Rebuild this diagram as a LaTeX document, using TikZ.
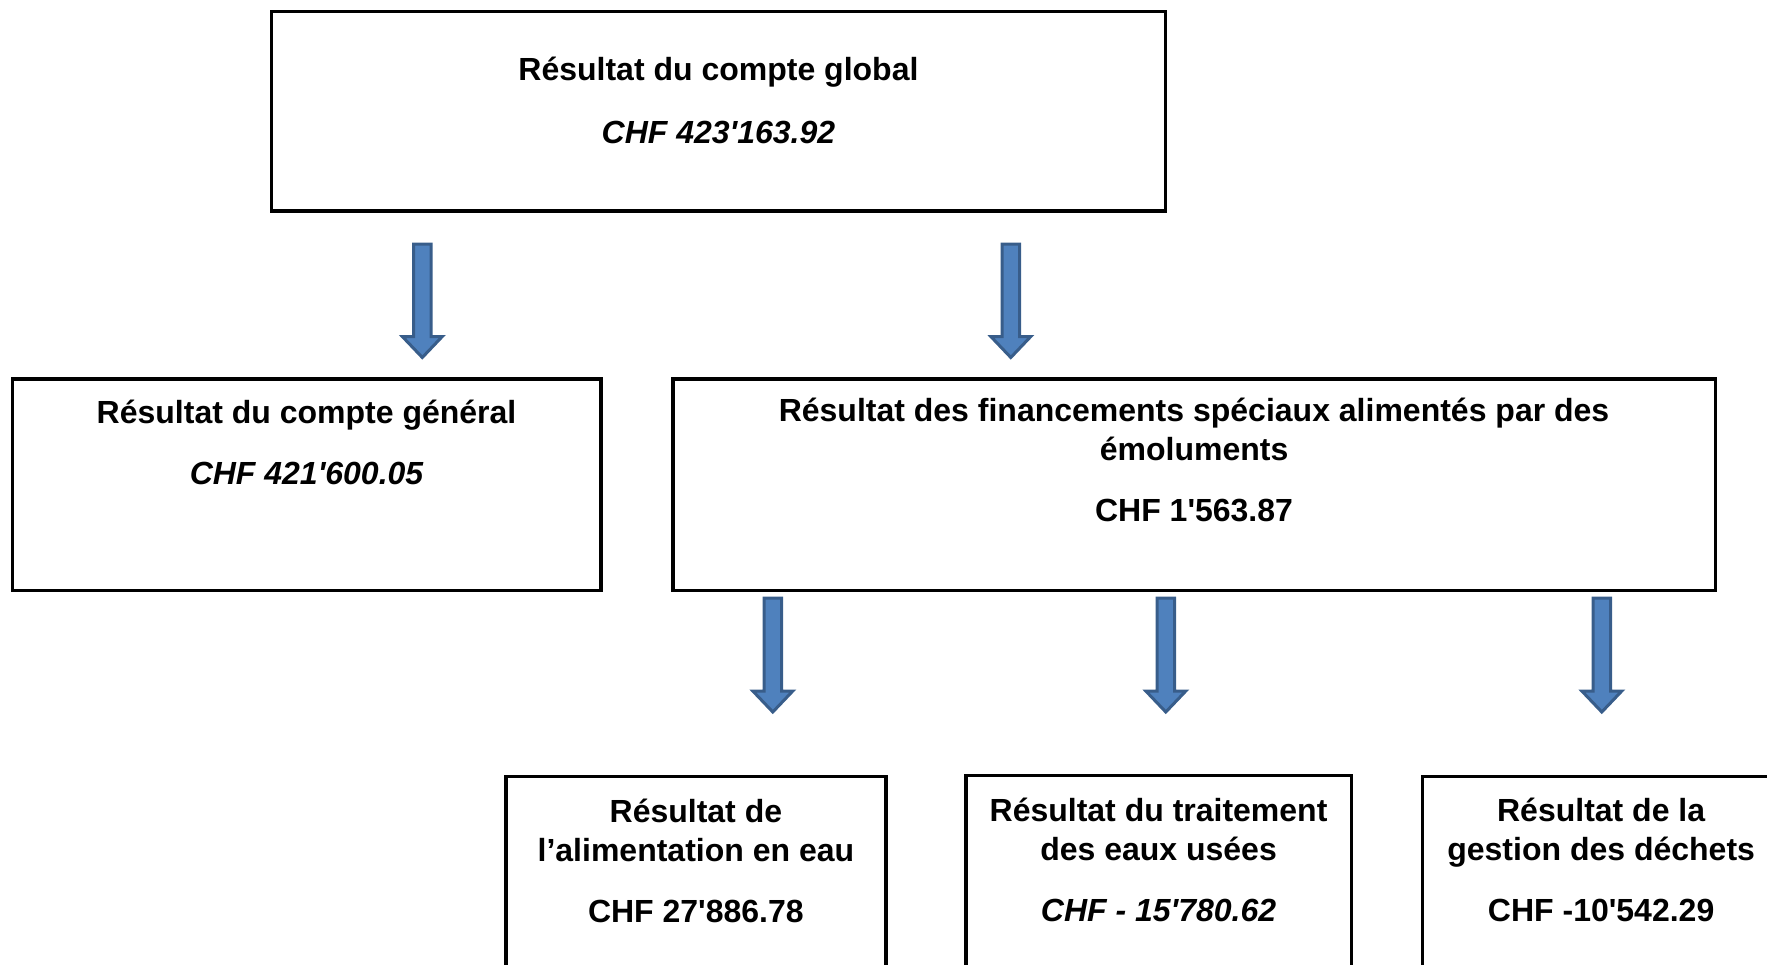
\documentclass[tikz,border=0pt]{standalone}
\usepackage{fontspec}
\setmainfont{Liberation Sans}
\usetikzlibrary{positioning,fit}
\definecolor{arrowfill}{HTML}{4F81BD}
\definecolor{arrowline}{HTML}{385D8A}
\newcommand{\apos}{\textquotesingle}

\begin{document}
\begin{tikzpicture}[x=0.5pt,y=-0.5pt,
    box/.style={draw, line width=1.8pt, inner sep=0pt},
    lbl/.style={anchor=north, inner sep=0pt, align=center,
        font=\fontsize{16pt}{19.7pt}\selectfont\bfseries},
    blockarrow/.style={fill=arrowfill, draw=arrowline, line width=1.5pt}]
    \useasboundingbox (0,0) rectangle (1767,964);
    \clip (0,0) rectangle (1767,964);

    \node[box, fit={(271.6,11.3) (1165.3,210.7)}] (global) {};
    \node[box, fit={(12.4,378.7) (600.7,590.5)}] (general) {};
    \node[box, fit={(672.8,378.7) (1715.3,590.5)}] (special) {};
    \node[box, fit={(506,776.5) (885.8,1010)}] (water) {};
    \node[box, fit={(965.8,775.4) (1351.3,1010)}] (sewage) {};
    \node[box, fit={(1422.3,776.5) (1780,1010)}] (waste) {};

    \node[lbl, below=23.6pt of global.north] (globaltxt)
        {Résultat du compte global\\[11.6pt]{\itshape CHF 423\apos163.92}};
    \node[lbl, below=11.6pt of general.north] (generaltxt)
        {Résultat du compte général\\[10.8pt]{\itshape CHF 421\apos600.05}};
    \node[lbl, below=10.3pt of special.north] (specialtxt)
        {Résultat des financements spéciaux alimentés par des\\émoluments\\[10.8pt]CHF 1\apos563.87};
    \node[lbl, below=11.8pt of water.north] (watertxt)
        {Résultat de\\l’alimentation en eau\\[10.8pt]CHF 27\apos886.78};
    \node[lbl, below=11.8pt of sewage.north] (sewagetxt)
        {Résultat du traitement\\des eaux usées\\[10.8pt]{\itshape CHF - 15\apos780.62}};
    \node[lbl, below=11.3pt of waste.north] (wastetxt)
        {Résultat de la\\gestion des déchets\\[10.8pt]CHF -10\apos542.29};

    \foreach \ax/\ay/\by in {422.3/244/357.5, 1010.8/244/357.5, 772.8/598/712, 1165.8/598/712, 1601.8/598/712}
        \draw[blockarrow] (\ax-8.8,\ay) -- (\ax+8.8,\ay) -- (\ax+8.8,\by-21) -- (\ax+20,\by-21)
            -- (\ax,\by) -- (\ax-20,\by-21) -- (\ax-8.8,\by-21) -- cycle;
\end{tikzpicture}
\end{document}
